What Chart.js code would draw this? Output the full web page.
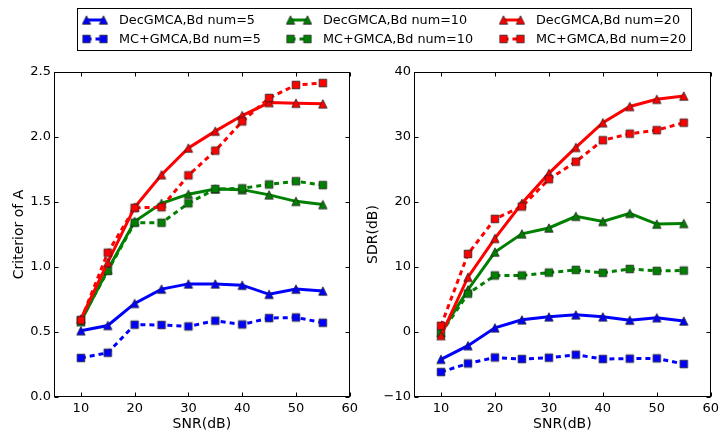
<!DOCTYPE html>
<html>
<head>
<meta charset="utf-8">
<script src="https://cdn.jsdelivr.net/npm/chart.js@4.4.1/dist/chart.umd.min.js"></script>
<style>
  body { margin: 0; background: #fff; font-family: "DejaVu Sans", sans-serif; }
  #page { position: relative; width: 723px; height: 433px; overflow: hidden; }
  #crit { position: absolute; left: 0; top: 0; }
  #sdr { position: absolute; left: 362px; top: 0; }
  #legend {
    position: absolute; left: 77px; top: 8px; width: 615px; height: 43px;
    box-sizing: border-box; border: 1px solid #000; background: #fff;
    padding: 1px 0 0 4px;
    display: grid; grid-auto-flow: column;
    grid-template-rows: 19px 19px; grid-template-columns: 204px 213px 180px;
    font-size: 12.8px; color: #000;
  }
  .item { display: flex; align-items: center; white-space: nowrap; }
  .item canvas { display: block; }
  .item span { margin-left: 11px; }
</style>
</head>
<body>
<div id="page">
  <canvas id="crit" width="362" height="433"></canvas>
  <canvas id="sdr" width="361" height="433"></canvas>
  <div id="legend"></div>
</div>
<script>
// SNR levels on the x axis
const snr = [10, 15, 20, 25, 30, 35, 40, 45, 50, 55];
const bdNums = [5, 10, 20];
const bdColors = ['#0000ff', '#008000', '#ff0000'];

// Criterior of A, one array per Bd num
const critDec5  = [0.51, 0.55, 0.72, 0.83, 0.87, 0.87, 0.86, 0.79, 0.83, 0.815];
const critMc5   = [0.30, 0.34, 0.556, 0.554, 0.543, 0.587, 0.558, 0.607, 0.612, 0.571];
const critDec10 = [0.58, 0.98, 1.35, 1.49, 1.56, 1.60, 1.595, 1.555, 1.505, 1.48];
const critMc10  = [0.59, 0.97, 1.34, 1.34, 1.49, 1.60, 1.605, 1.635, 1.66, 1.63];
const critDec20 = [0.60, 1.035, 1.46, 1.71, 1.915, 2.045, 2.165, 2.265, 2.26, 2.255];
const critMc20  = [0.59, 1.11, 1.455, 1.46, 1.705, 1.895, 2.12, 2.30, 2.40, 2.415];

// SDR(dB)
const sdrDec5  = [-4.2, -2.1, 0.64, 1.87, 2.33, 2.64, 2.33, 1.82, 2.2, 1.7];
const sdrMc5   = [-6.16, -4.84, -3.92, -4.16, -3.96, -3.5, -4.16, -4.1, -4.05, -4.93];
const sdrDec10 = [-0.1, 6.5, 12.3, 15.1, 16.0, 17.8, 17.0, 18.25, 16.6, 16.7];
const sdrMc10  = [-0.2, 5.9, 8.7, 8.7, 9.14, 9.55, 9.1, 9.7, 9.4, 9.45];
const sdrDec20 = [-0.54, 8.43, 14.4, 19.8, 24.4, 28.4, 32.2, 34.7, 35.8, 36.3];
const sdrMc20  = [0.95, 12.0, 17.4, 19.3, 23.5, 26.2, 29.5, 30.5, 31.05, 32.2];

// axis ranges and tick steps
const snrRange = [5, 60], snrStep = 10;
const critRange = [0, 2.5], critStep = 0.5;
const sdrRange = [-10, 40], sdrStep = 10;

Chart.defaults.font.family = '"DejaVu Sans", sans-serif';
Chart.defaults.color = '#000';

// matplotlib-like markers: triangle / square with a thin dark edge
function makeMarker(shape, color) {
  const c = document.createElement('canvas');
  c.width = 12; c.height = 12;
  const g = c.getContext('2d');
  g.beginPath();
  if (shape === 'tri') {
    g.moveTo(6, 1.8); g.lineTo(1.8, 10.2); g.lineTo(10.2, 10.2); g.closePath();
  } else {
    g.rect(2.2, 2.2, 7.6, 7.6);
  }
  g.fillStyle = color; g.fill();
  g.strokeStyle = '#222'; g.lineWidth = 0.8; g.stroke();
  return c;
}
const triMarks = bdColors.map(c => makeMarker('tri', c));
const sqMarks = bdColors.map(c => makeMarker('sq', c));

function toPoints(vals) {
  return snr.map((x, k) => ({ x: x, y: vals[k] }));
}

function buildSeries(dec, mc) {
  const out = [];
  bdNums.forEach((n, i) => {
    out.push({ label: 'DecGMCA,Bd num=' + n, data: toPoints(dec[i]),
      borderColor: bdColors[i], backgroundColor: bdColors[i],
      borderWidth: 3, borderDash: [], pointStyle: triMarks[i] });
    out.push({ label: 'MC+GMCA,Bd num=' + n, data: toPoints(mc[i]),
      borderColor: bdColors[i], backgroundColor: bdColors[i],
      borderWidth: 3, borderDash: [5, 4], pointStyle: sqMarks[i] });
  });
  // later series drawn on top
  return out.map((d, i) => Object.assign(d, { order: out.length - i, pointRadius: 5, tension: 0 }));
}

// box around the plot area with inward ticks on all four sides
const frameTicks = {
  id: 'frameTicks',
  afterDraw(chart) {
    const { ctx, chartArea: a, scales: { x, y } } = chart;
    const l = Math.round(a.left) + 0.5, r = Math.round(a.right) - 0.5;
    const t = Math.round(a.top) + 0.5, b = Math.round(a.bottom) - 0.5;
    ctx.save();
    ctx.strokeStyle = '#000';
    ctx.lineWidth = 1;
    ctx.strokeRect(l, t, r - l, b - t);
    ctx.beginPath();
    x.ticks.forEach(tk => {
      const p = Math.round(x.getPixelForValue(tk.value)) + 0.5;
      ctx.moveTo(p, b); ctx.lineTo(p, b - 4);
      ctx.moveTo(p, t); ctx.lineTo(p, t + 4);
    });
    y.ticks.forEach(tk => {
      const p = Math.round(y.getPixelForValue(tk.value)) + 0.5;
      ctx.moveTo(l, p); ctx.lineTo(l + 4, p);
      ctx.moveTo(r, p); ctx.lineTo(r - 4, p);
    });
    ctx.stroke();
    ctx.restore();
  }
};

function makeChart(id, datasets, yRange, yStep, yTitle, yFmt, yWidth, titlePad) {
  return new Chart(document.getElementById(id), {
    type: 'line',
    data: { datasets: datasets },
    options: {
      responsive: false,
      animation: false,
      events: [],
      layout: { padding: { left: 0, right: 9, top: 72, bottom: 0 } },
      plugins: { legend: { display: false }, tooltip: { enabled: false } },
      scales: {
        x: {
          type: 'linear', min: snrRange[0], max: snrRange[1],
          grid: { display: false, drawTicks: false },
          border: { display: false },
          ticks: { stepSize: snrStep, includeBounds: false, padding: 4, font: { size: 13 } },
          title: { display: true, text: 'SNR(dB)', font: { size: 14 }, padding: { top: 0, bottom: 0 } },
          afterFit: s => { s.height = 36; }
        },
        y: {
          min: yRange[0], max: yRange[1],
          grid: { display: false, drawTicks: false },
          border: { display: false },
          ticks: { stepSize: yStep, padding: 3, font: { size: 13 }, callback: yFmt },
          title: { display: true, text: yTitle, font: { size: 14 }, padding: { top: titlePad, bottom: 0 } },
          afterFit: s => { s.width = yWidth; }
        }
      }
    },
    plugins: [frameTicks]
  });
}

const critChart = makeChart('crit',
  buildSeries([critDec5, critDec10, critDec20], [critMc5, critMc10, critMc20]),
  critRange, critStep, 'Criterior of A', v => v.toFixed(1), 54, 11);

makeChart('sdr',
  buildSeries([sdrDec5, sdrDec10, sdrDec20], [sdrMc5, sdrMc10, sdrMc20]),
  sdrRange, sdrStep, 'SDR(dB)', v => (v < 0 ? '\u2212' + Math.abs(v) : String(v)), 52, 3);

// shared legend, filled column by column in plotting order
const legend = document.getElementById('legend');
critChart.data.datasets.forEach(ds => {
  const item = document.createElement('div');
  item.className = 'item';
  const c = document.createElement('canvas');
  c.width = 26; c.height = 14;
  const g = c.getContext('2d');
  g.strokeStyle = ds.borderColor;
  g.lineWidth = 3;
  g.setLineDash(ds.borderDash);
  g.beginPath(); g.moveTo(4.5, 7); g.lineTo(21.5, 7); g.stroke();
  g.drawImage(ds.pointStyle, 4.5 - 6, 1);
  g.drawImage(ds.pointStyle, 21.5 - 6, 1);
  const s = document.createElement('span');
  s.textContent = ds.label;
  item.appendChild(c);
  item.appendChild(s);
  legend.appendChild(item);
});
</script>
</body>
</html>
